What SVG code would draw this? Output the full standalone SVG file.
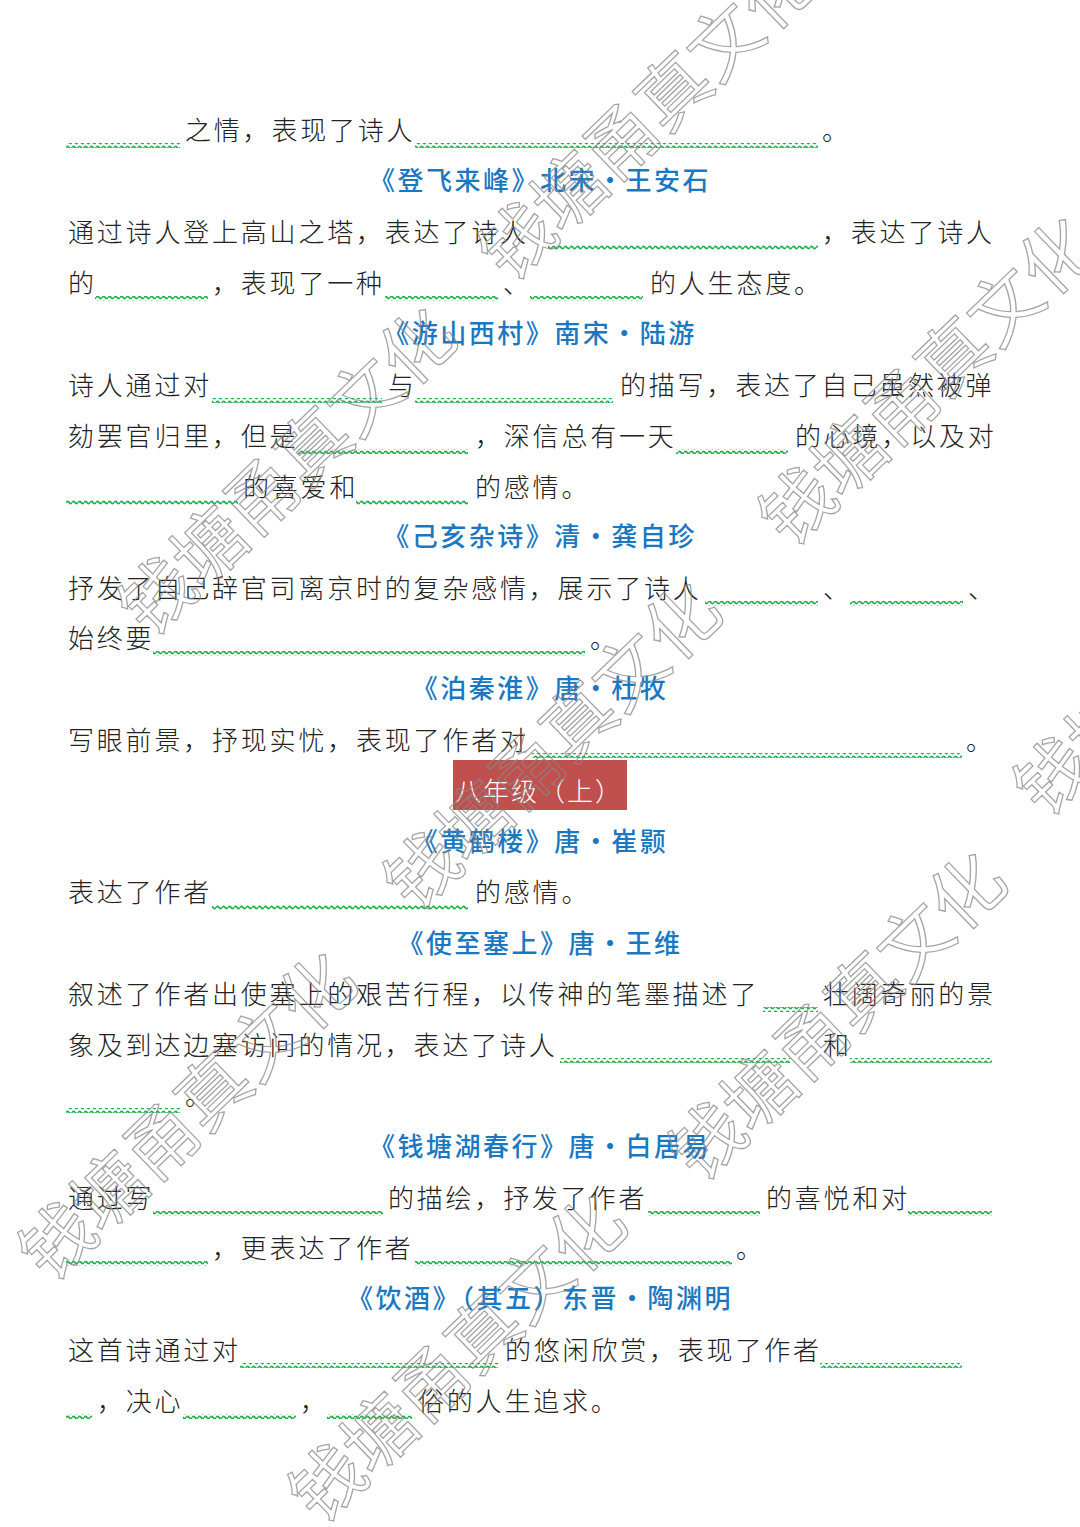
<svg xmlns="http://www.w3.org/2000/svg" width="1080" height="1527" viewBox="0 0 1080 1527">
<defs>
<pattern id="wave" x="0" y="0" width="6" height="5" patternUnits="userSpaceOnUse">
<path d="M0,2.5 Q1.5,0.3 3,2.5 T6,2.5" fill="none" stroke="#22b14c" stroke-width="1.8"/>
</pattern>
</defs>
<style>
.b{font-family:"Noto Sans CJK SC","Noto Sans",sans-serif;font-size:26px;letter-spacing:2.8px;fill:#222;font-weight:300}
.t{font-family:"Noto Sans CJK SC","Noto Sans",sans-serif;font-size:26px;letter-spacing:2.5px;fill:#1a78c2;font-weight:500;text-anchor:middle}
.w{font-family:"Noto Sans CJK SC",sans-serif;font-size:72px;fill:none;stroke:#888;stroke-width:1.3;opacity:0.75}
.u{fill:url(#wave)}
</style>
<rect width="1080" height="1527" fill="#fff"/>
<g id="blanks">
<rect class="u" x="66" y="143" width="114" height="5"/><rect class="u" x="415" y="143" width="403" height="5"/>
<rect class="u" x="548" y="245" width="270" height="5"/>
<rect class="u" x="95" y="296" width="113" height="5"/><rect class="u" x="385" y="296" width="113" height="5"/><rect class="u" x="530" y="296" width="113" height="5"/>
<rect class="u" x="212" y="398" width="170" height="5"/><rect class="u" x="415" y="398" width="198" height="5"/>
<rect class="u" x="298" y="449" width="170" height="5"/><rect class="u" x="676" y="449" width="112" height="5"/>
<rect class="u" x="66" y="500" width="172" height="5"/><rect class="u" x="356" y="500" width="112" height="5"/>
<rect class="u" x="705" y="601" width="113" height="5"/><rect class="u" x="850" y="601" width="113" height="5"/>
<rect class="u" x="153" y="651" width="432" height="5"/>
<rect class="u" x="532" y="753" width="430" height="5"/>
<rect class="u" x="212" y="905" width="256" height="5"/>
<rect class="u" x="763" y="1007" width="55" height="5"/>
<rect class="u" x="560" y="1058" width="230" height="5"/><rect class="u" x="850" y="1058" width="142" height="5"/>
<rect class="u" x="66" y="1108" width="114" height="5"/>
<rect class="u" x="153" y="1211" width="230" height="5"/><rect class="u" x="648" y="1211" width="112" height="5"/><rect class="u" x="908" y="1211" width="84" height="5"/>
<rect class="u" x="66" y="1261" width="142" height="5"/><rect class="u" x="415" y="1261" width="317" height="5"/>
<rect class="u" x="240" y="1363" width="258" height="5"/><rect class="u" x="820" y="1363" width="142" height="5"/>
<rect class="u" x="66" y="1414" width="26" height="5"/><rect class="u" x="183" y="1414" width="113" height="5"/><rect class="u" x="327" y="1414" width="85" height="5"/>
</g>
<g id="body">
<text class="b" x="185" y="140">之情，表现了诗人</text><text class="b" x="822" y="140">。</text>
<text class="b" x="68" y="242">通过诗人登上高山之塔，表达了诗人</text><text class="b" x="822" y="242">，表达了诗人</text>
<text class="b" x="68" y="293">的</text><text class="b" x="212" y="293">，表现了一种</text><text class="b" x="503" y="293">、</text><text class="b" x="650" y="293">的人生态度。</text>
<text class="b" x="68" y="395">诗人通过对</text><text class="b" x="388" y="395">与</text><text class="b" x="620" y="395">的描写，表达了自己虽然被弹</text>
<text class="b" x="68" y="446">劾罢官归里，但是</text><text class="b" x="475" y="446">，深信总有一天</text><text class="b" x="795" y="446">的心境，以及对</text>
<text class="b" x="243" y="497">的喜爱和</text><text class="b" x="475" y="497">的感情。</text>
<text class="b" x="68" y="598">抒发了自己辞官司离京时的复杂感情，展示了诗人</text><text class="b" x="823" y="598">、</text><text class="b" x="968" y="598">、</text>
<text class="b" x="68" y="648">始终要</text><text class="b" x="590" y="648">。</text>
<text class="b" x="68" y="750">写眼前景，抒现实忧，表现了作者对</text><text class="b" x="966" y="750">。</text>
<text class="b" x="68" y="902">表达了作者</text><text class="b" x="475" y="902">的感情。</text>
<text class="b" x="68" y="1004">叙述了作者出使塞上的艰苦行程，以传神的笔墨描述了</text><text class="b" x="823" y="1004">壮阔奇丽的景</text>
<text class="b" x="68" y="1055">象及到达边塞访问的情况，表达了诗人</text><text class="b" x="823" y="1055">和</text>
<text class="b" x="185" y="1105">。</text>
<text class="b" x="68" y="1208">通过写</text><text class="b" x="388" y="1208">的描绘，抒发了作者</text><text class="b" x="766" y="1208">的喜悦和对</text>
<text class="b" x="212" y="1258">，更表达了作者</text><text class="b" x="736" y="1258">。</text>
<text class="b" x="68" y="1360">这首诗通过对</text><text class="b" x="505" y="1360">的悠闲欣赏，表现了作者</text>
<text class="b" x="97" y="1411">，决心</text><text class="b" x="300" y="1411">，</text><text class="b" x="418" y="1411">俗的人生追求。</text>
</g>
<g id="titles">
<text class="t" x="540" y="190">《登飞来峰》北宋·王安石</text>
<text class="t" x="540" y="343">《游山西村》南宋·陆游</text>
<text class="t" x="540" y="546">《己亥杂诗》清·龚自珍</text>
<text class="t" x="540" y="698">《泊秦淮》唐·杜牧</text>
<text class="t" x="540" y="851">《黄鹤楼》唐·崔颢</text>
<text class="t" x="540" y="953">《使至塞上》唐·王维</text>
<text class="t" x="540" y="1156">《钱塘湖春行》唐·白居易</text>
<text class="t" x="540" y="1308">《饮酒》（其五）东晋·陶渊明</text>
</g>
<g id="grade">
<rect x="453" y="760" width="174" height="50" fill="#c0504d"/>
<text x="455" y="801" style="font-family:'Noto Sans CJK SC',sans-serif;font-size:26px;letter-spacing:2px;fill:#fff;font-weight:300">八年级（上）</text>
</g>
<g id="watermarks">
<text class="w" transform="translate(510,285) rotate(-44)">钱塘甬真文化</text>
<text class="w" transform="translate(790,550) rotate(-44)">钱塘甬真文化</text>
<text class="w" transform="translate(150,640) rotate(-44)">钱塘甬真文化</text>
<text class="w" transform="translate(415,915) rotate(-44)">钱塘甬真文化</text>
<text class="w" transform="translate(-330,1120) rotate(-44)">钱塘甬真文化</text>
<text class="w" transform="translate(1045,820) rotate(-44)">钱塘甬真文化</text>
<text class="w" transform="translate(50,1285) rotate(-44)">钱塘甬真文化</text>
<text class="w" transform="translate(700,1185) rotate(-44)">钱塘甬真文化</text>
<text class="w" transform="translate(320,1527) rotate(-44)">钱塘甬真文化</text>
</g>
</svg>
